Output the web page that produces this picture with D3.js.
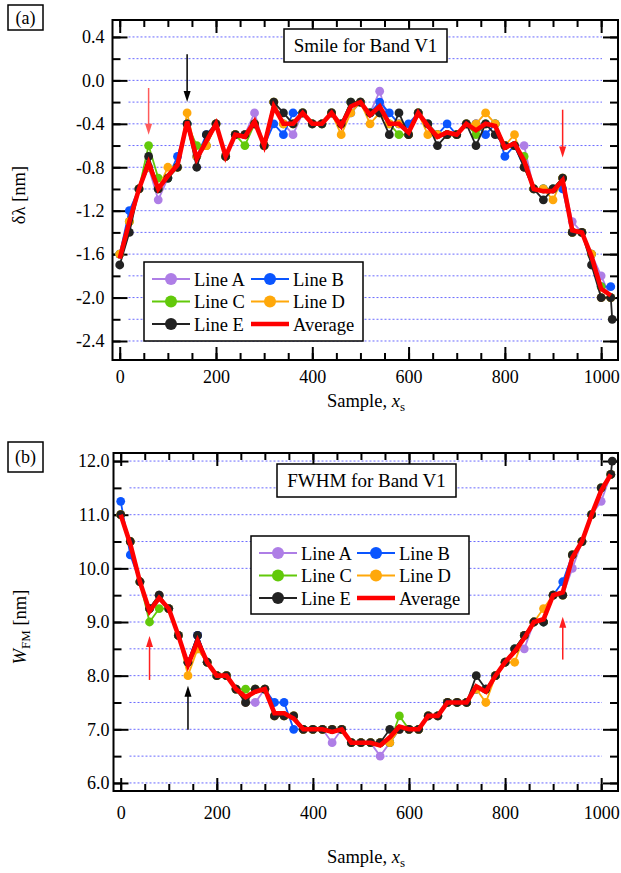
<!DOCTYPE html>
<html lang="en">
<head>
<meta charset="UTF-8" />
<title>Smile and FWHM for Band V1</title>
<script src="https://d3js.org/d3.v7.min.js"></script>
<style>
  body { margin: 0; background: #ffffff; }
  svg { display: block; font-family: 'Liberation Serif', 'Times New Roman', serif; }
  .grid line { stroke: #6a6aff; stroke-width: 1; stroke-dasharray: 2, 2; }
  .tick line { stroke: #000; stroke-width: 2; }
</style>
</head>
<body>
<svg id="chart" width="621" height="873"></svg>
<script>
// sample positions (every 20 samples), Line E also has a last point at 1023
const sampleX = [0, 20, 40, 60, 80, 100, 120, 140, 160, 180, 200, 220, 240, 260, 280, 300, 320, 340, 360, 380,
  400, 420, 440, 460, 480, 500, 520, 540, 560, 580, 600, 620, 640, 660, 680, 700, 720, 740, 760, 780,
  800, 820, 840, 860, 880, 900, 920, 940, 960, 980, 1000, 1020];
const lastSampleX = 1023;

const xTicks = [0, 200, 400, 600, 800, 1000];
const xMinorTicks = [0, 50, 100, 150, 200, 250, 300, 350, 400, 450, 500, 550, 600, 650, 700, 750, 800, 850, 900, 950, 1000];

// (a) smile, nm
const smileA = [-1.6, -1.3, -1.0, -0.8, -1.1, -0.9, -0.8, -0.4, -0.7, -0.6,
  -0.4, -0.7, -0.5, -0.5, -0.3, -0.6, -0.2, -0.4, -0.5, -0.3,
  -0.4, -0.4, -0.3, -0.4, -0.2, -0.2, -0.3, -0.1, -0.4, -0.4,
  -0.5, -0.3, -0.4, -0.5, -0.5, -0.5, -0.4, -0.4, -0.4, -0.4,
  -0.6, -0.6, -0.6, -1.0, -1.0, -1.0, -0.9, -1.3, -1.4, -1.6,
  -1.8, -2.0];
const smileB = [-1.6, -1.2, -1.0, -0.8, -1.0, -0.9, -0.7, -0.4, -0.7, -0.5,
  -0.4, -0.7, -0.5, -0.5, -0.4, -0.6, -0.4, -0.5, -0.3, -0.3,
  -0.4, -0.4, -0.3, -0.4, -0.3, -0.2, -0.3, -0.2, -0.3, -0.4,
  -0.4, -0.3, -0.4, -0.5, -0.4, -0.5, -0.4, -0.4, -0.5, -0.4,
  -0.7, -0.6, -0.8, -1.0, -1.0, -1.0, -1.0, -1.4, -1.4, -1.6,
  -1.9, -1.9];
const smileC = [-1.6, -1.3, -1.0, -0.6, -0.9, -0.9, -0.8, -0.4, -0.6, -0.6,
  -0.4, -0.7, -0.5, -0.6, -0.4, -0.6, -0.2, -0.4, -0.4, -0.3,
  -0.4, -0.4, -0.3, -0.4, -0.2, -0.2, -0.3, -0.3, -0.4, -0.5,
  -0.5, -0.3, -0.4, -0.5, -0.5, -0.5, -0.4, -0.5, -0.4, -0.4,
  -0.6, -0.6, -0.7, -1.0, -1.0, -1.0, -0.9, -1.4, -1.4, -1.6,
  -1.9, -2.0];
const smileD = [-1.6, -1.3, -1.0, -0.8, -1.0, -0.8, -0.8, -0.3, -0.7, -0.6,
  -0.4, -0.7, -0.5, -0.5, -0.4, -0.6, -0.2, -0.4, -0.4, -0.3,
  -0.4, -0.4, -0.3, -0.5, -0.3, -0.2, -0.4, -0.3, -0.4, -0.4,
  -0.5, -0.3, -0.5, -0.5, -0.5, -0.5, -0.4, -0.4, -0.3, -0.4,
  -0.6, -0.5, -0.8, -1.0, -1.0, -1.1, -0.9, -1.4, -1.4, -1.6,
  -2.0, -2.0];
const smileE = [-1.7, -1.4, -1.0, -0.7, -1.0, -0.9, -0.8, -0.4, -0.8, -0.5,
  -0.4, -0.7, -0.5, -0.5, -0.4, -0.6, -0.2, -0.3, -0.4, -0.3,
  -0.4, -0.4, -0.3, -0.4, -0.2, -0.2, -0.3, -0.3, -0.5, -0.3,
  -0.5, -0.3, -0.4, -0.6, -0.5, -0.5, -0.4, -0.6, -0.4, -0.5,
  -0.6, -0.6, -0.8, -1.0, -1.1, -1.0, -0.9, -1.4, -1.4, -1.7,
  -2.0, -2.0];
const smileELast = -2.2;
const smileAvg = [-1.64, -1.30, -1.00, -0.76, -1.00, -0.88, -0.78, -0.38, -0.72, -0.56,
  -0.40, -0.70, -0.50, -0.52, -0.38, -0.60, -0.24, -0.40, -0.40, -0.30,
  -0.40, -0.40, -0.30, -0.42, -0.24, -0.20, -0.32, -0.24, -0.40, -0.40,
  -0.48, -0.30, -0.42, -0.52, -0.48, -0.50, -0.40, -0.46, -0.40, -0.42,
  -0.62, -0.58, -0.74, -1.00, -1.02, -1.02, -0.92, -1.38, -1.40, -1.62,
  -1.92, -1.98];
const smileTicks = [-2.4, -2.0, -1.6, -1.2, -0.8, -0.4, 0.0, 0.4];
const smileMinor = [-2.4, -2.2, -2.0, -1.8, -1.6, -1.4, -1.2, -1.0, -0.8, -0.6, -0.4, -0.2, 0.0, 0.2, 0.4];
// arrows: sample, tail value, tip value
const smileArrows = [
  { x: 60, from: -0.07, to: -0.5, color: '#ff5a5a' },
  { x: 140, from: 0.24, to: -0.2, color: '#000000' },
  { x: 920, from: -0.27, to: -0.71, color: '#ff2020' }
];

// (b) FWHM, nm
const fwhmA = [11.0, 10.5, 9.75, 9.25, 9.5, 9.25, 8.75, 8.25, 8.75, 8.25,
  8.0, 8.0, 7.75, 7.5, 7.5, 7.75, 7.25, 7.25, 7.25, 7.0,
  7.0, 7.0, 6.75, 7.0, 6.75, 6.75, 6.75, 6.5, 6.75, 7.0,
  7.0, 7.0, 7.25, 7.25, 7.5, 7.5, 7.5, 7.75, 7.75, 8.0,
  8.25, 8.5, 8.5, 9.0, 9.0, 9.5, 9.5, 10.0, 10.5, 11.0,
  11.25, 11.75];
const fwhmB = [11.25, 10.25, 9.75, 9.25, 9.5, 9.25, 8.75, 8.25, 8.75, 8.25,
  8.0, 8.0, 7.75, 7.5, 7.75, 7.75, 7.5, 7.5, 7.0, 7.0,
  7.0, 7.0, 7.0, 7.0, 6.75, 6.75, 6.75, 6.75, 6.75, 7.0,
  7.0, 7.0, 7.25, 7.25, 7.5, 7.5, 7.5, 7.75, 7.75, 8.0,
  8.25, 8.5, 8.75, 9.0, 9.0, 9.5, 9.75, 10.25, 10.5, 11.0,
  11.5, 11.75];
const fwhmC = [11.0, 10.5, 9.75, 9.0, 9.25, 9.25, 8.75, 8.25, 8.5, 8.25,
  8.0, 8.0, 7.75, 7.75, 7.75, 7.75, 7.25, 7.25, 7.25, 7.0,
  7.0, 7.0, 7.0, 7.0, 6.75, 6.75, 6.75, 6.75, 6.75, 7.25,
  7.0, 7.0, 7.25, 7.25, 7.5, 7.5, 7.5, 7.75, 7.75, 8.0,
  8.25, 8.5, 8.75, 9.0, 9.0, 9.5, 9.5, 10.25, 10.5, 11.0,
  11.5, 11.75];
const fwhmD = [11.0, 10.5, 9.75, 9.25, 9.5, 9.25, 8.75, 8.0, 8.5, 8.25,
  8.0, 8.0, 7.75, 7.5, 7.75, 7.75, 7.25, 7.25, 7.25, 7.0,
  7.0, 7.0, 7.0, 7.0, 6.75, 6.75, 6.75, 6.75, 6.75, 7.0,
  7.0, 7.0, 7.25, 7.25, 7.5, 7.5, 7.5, 7.75, 7.5, 8.0,
  8.25, 8.25, 8.75, 9.0, 9.25, 9.5, 9.5, 10.25, 10.5, 11.0,
  11.5, 11.75];
const fwhmE = [11.0, 10.5, 9.75, 9.25, 9.5, 9.25, 8.75, 8.25, 8.75, 8.25,
  8.0, 8.0, 7.75, 7.5, 7.75, 7.75, 7.25, 7.25, 7.25, 7.0,
  7.0, 7.0, 7.0, 7.0, 6.75, 6.75, 6.75, 6.75, 7.0, 7.0,
  7.0, 7.0, 7.25, 7.25, 7.5, 7.5, 7.5, 8.0, 7.75, 8.0,
  8.25, 8.5, 8.75, 9.0, 9.0, 9.5, 9.5, 10.25, 10.5, 11.0,
  11.5, 11.75];
const fwhmELast = 12.0;
const fwhmAvg = [11.0, 10.45, 9.75, 9.2, 9.45, 9.25, 8.75, 8.2, 8.65, 8.25,
  8.0, 8.0, 7.75, 7.6, 7.7, 7.75, 7.3, 7.3, 7.2, 7.0,
  7.0, 7.0, 6.95, 7.0, 6.75, 6.75, 6.75, 6.7, 6.85, 7.05,
  7.0, 7.0, 7.25, 7.25, 7.5, 7.5, 7.5, 7.8, 7.7, 8.0,
  8.25, 8.45, 8.7, 9.0, 9.05, 9.5, 9.55, 10.2, 10.5, 11.0,
  11.45, 11.75];
const fwhmTicks = [6.0, 7.0, 8.0, 9.0, 10.0, 11.0, 12.0];
const fwhmMinor = [6.0, 6.5, 7.0, 7.5, 8.0, 8.5, 9.0, 9.5, 10.0, 10.5, 11.0, 11.5, 12.0];
const fwhmArrows = [
  { x: 60, from: 7.92, to: 8.74, color: '#ff2020' },
  { x: 140, from: 6.99, to: 7.81, color: '#000000' },
  { x: 920, from: 8.3, to: 9.1, color: '#ff2020' }
];

const lineNames = ['Line A', 'Line B', 'Line C', 'Line D', 'Line E'];
const lineColors = ['#ae7ee6', '#0a55ff', '#62c90a', '#ffa80a', '#222222'];
const avgColor = '#ff0000';

const svg = d3.select('#chart');

function pts(values, extra) {
  const p = values.map((v, i) => [sampleX[i], v]);
  if (extra !== undefined) p.push([lastSampleX, extra]);
  return p;
}

function drawPanel(o) {
  const x = d3.scaleLinear().domain([-15, 1035]).range([o.left, o.right]);
  const y = d3.scaleLinear().domain(o.yDomain).range([o.bottom, o.top]);
  const g = svg.append('g');

  // grid
  g.append('g').attr('class', 'grid')
    .selectAll('line').data(o.yMinor).join('line')
    .attr('x1', o.left + 16).attr('x2', o.right - 16)
    .attr('y1', (d) => y(d)).attr('y2', (d) => y(d));

  // minor ticks
  const strip = (sel) => sel.select('.domain').remove();
  g.append('g').attr('transform', `translate(0,${o.bottom})`)
    .call(d3.axisBottom(x).tickValues(xMinorTicks).tickSize(-7).tickFormat('')).call(strip);
  g.append('g').attr('transform', `translate(0,${o.top})`)
    .call(d3.axisTop(x).tickValues(xMinorTicks).tickSize(-7).tickFormat('')).call(strip);
  g.append('g').attr('transform', `translate(${o.left},0)`)
    .call(d3.axisLeft(y).tickValues(o.yMinor).tickSize(-8).tickFormat('')).call(strip);
  g.append('g').attr('transform', `translate(${o.right},0)`)
    .call(d3.axisRight(y).tickValues(o.yMinor).tickSize(-8).tickFormat('')).call(strip);

  // major ticks + labels
  const fmt = (d) => d.toFixed(1);
  g.append('g').attr('transform', `translate(0,${o.bottom})`)
    .call(d3.axisBottom(x).tickValues(xTicks).tickSize(-13).tickPadding(o.xPad).tickFormat((d) => d))
    .call(strip)
    .selectAll('text').attr('font-size', 18).attr('font-family', 'Liberation Serif').attr('fill', '#000');
  g.append('g').attr('transform', `translate(0,${o.top})`)
    .call(d3.axisTop(x).tickValues(xTicks).tickSize(-13).tickFormat('')).call(strip);
  g.append('g').attr('transform', `translate(${o.left},0)`)
    .call(d3.axisLeft(y).tickValues(o.yTicks).tickSize(-15).tickPadding(o.yPad).tickFormat(fmt))
    .call(strip)
    .selectAll('text').attr('font-size', 18).attr('font-family', 'Liberation Serif').attr('fill', '#000');
  g.append('g').attr('transform', `translate(${o.right},0)`)
    .call(d3.axisRight(y).tickValues(o.yTicks).tickSize(-15).tickFormat('')).call(strip);

  // frame
  g.append('rect')
    .attr('x', o.left).attr('y', o.top)
    .attr('width', o.right - o.left).attr('height', o.bottom - o.top)
    .attr('fill', 'none').attr('stroke', '#000').attr('stroke-width', 2);

  // series
  const line = d3.line().x((d) => x(d[0])).y((d) => y(d[1]));
  o.series.forEach((s, i) => {
    const p = pts(s, i === 4 ? o.eLast : undefined);
    g.append('path').datum(p).attr('d', line)
      .attr('fill', 'none').attr('stroke', lineColors[i]).attr('stroke-width', 1.8);
    g.append('g').selectAll('circle').data(p).join('circle')
      .attr('cx', (d) => x(d[0])).attr('cy', (d) => y(d[1])).attr('r', 4.4)
      .attr('fill', lineColors[i]);
  });
  g.append('path').datum(pts(o.avg)).attr('d', line)
    .attr('fill', 'none').attr('stroke', avgColor).attr('stroke-width', 4.6)
    .attr('stroke-linejoin', 'miter');

  // arrows
  o.arrows.forEach((a) => {
    const ax = x(a.x), y0 = y(a.from), y1 = y(a.to);
    const dir = y1 > y0 ? 1 : -1;
    g.append('line').attr('x1', ax).attr('x2', ax).attr('y1', y0).attr('y2', y1 - dir * 8)
      .attr('stroke', a.color).attr('stroke-width', 1.5);
    g.append('path')
      .attr('d', `M${ax},${y1} L${ax - 3.5},${y1 - dir * 11} L${ax + 3.5},${y1 - dir * 11} Z`)
      .attr('fill', a.color);
  });

  // title box
  const t = o.title;
  g.append('rect').attr('x', t.x).attr('y', t.y).attr('width', t.w).attr('height', t.h)
    .attr('fill', '#fff').attr('stroke', '#000').attr('stroke-width', 1.5);
  g.append('text').attr('x', t.x + t.w / 2).attr('y', t.y + t.h / 2 + 6.5)
    .attr('text-anchor', 'middle').attr('font-size', 19).text(t.text);

  // legend
  const L = o.legend;
  g.append('rect').attr('x', L.x).attr('y', L.y).attr('width', L.w).attr('height', L.h)
    .attr('fill', '#fff').attr('stroke', '#000').attr('stroke-width', 1.5);
  const items = lineNames.map((n, i) => ({ name: n, color: lineColors[i], avg: false }))
    .concat([{ name: 'Average', color: avgColor, avg: true }]);
  items.forEach((it, i) => {
    const col = i % 2, row = Math.floor(i / 2);
    const lx = L.x + 8 + col * L.colW, ly = L.y + 17 + row * 22.5;
    g.append('line').attr('x1', lx).attr('x2', lx + 38).attr('y1', ly).attr('y2', ly)
      .attr('stroke', it.color).attr('stroke-width', it.avg ? 4.6 : 1.8);
    if (!it.avg) {
      g.append('circle').attr('cx', lx + 19).attr('cy', ly).attr('r', 6).attr('fill', it.color);
    }
    g.append('text').attr('x', lx + 42).attr('y', ly + 6.5).attr('font-size', 18.5).text(it.name);
  });

  // panel label
  const P = o.panel;
  g.append('rect').attr('x', P.x).attr('y', P.y).attr('width', 35).attr('height', P.h)
    .attr('fill', 'none').attr('stroke', '#000').attr('stroke-width', 1.5);
  g.append('text').attr('x', P.x + 17.5).attr('y', P.y + P.h / 2 + 6)
    .attr('text-anchor', 'middle').attr('font-size', 18).text(P.text);

  // x label
  const xl = g.append('text').attr('x', 366).attr('y', o.xLabelY)
    .attr('text-anchor', 'middle').attr('font-size', 18.5);
  xl.append('tspan').text('Sample, ');
  xl.append('tspan').attr('font-style', 'italic').text('x');
  xl.append('tspan').attr('font-size', 13).attr('dy', 4).text('s');

  // y label
  const yl = g.append('text')
    .attr('transform', `translate(${o.yLabelX},${(o.top + o.bottom) / 2 + 5}) rotate(-90)`)
    .attr('text-anchor', 'middle').attr('font-size', 18.5);
  o.yLabel(yl);
}

drawPanel({
  left: 112.5, right: 618, top: 20, bottom: 360,
  yDomain: [-2.575, 0.556], yTicks: smileTicks, yMinor: smileMinor,
  series: [smileA, smileB, smileC, smileD, smileE], eLast: smileELast, avg: smileAvg,
  arrows: smileArrows,
  xPad: 10, yPad: 8,
  title: { x: 284, y: 29, w: 163, h: 33, text: 'Smile for Band V1' },
  legend: { x: 144, y: 262, w: 219, h: 79, colW: 99 },
  panel: { x: 8, y: 5, h: 25, text: '(a)' },
  xLabelY: 407, yLabelX: 25,
  yLabel: (t) => t.text('δλ [nm]')
});

drawPanel({
  left: 113.5, right: 618, top: 453, bottom: 791,
  yDomain: [5.85, 12.15], yTicks: fwhmTicks, yMinor: fwhmMinor,
  series: [fwhmA, fwhmB, fwhmC, fwhmD, fwhmE], eLast: fwhmELast, avg: fwhmAvg,
  arrows: fwhmArrows,
  xPad: 15, yPad: 4,
  title: { x: 277, y: 464, w: 179, h: 33, text: 'FWHM for Band V1' },
  legend: { x: 251, y: 536, w: 218, h: 78, colW: 98 },
  panel: { x: 8, y: 442, h: 30, text: '(b)' },
  xLabelY: 863, yLabelX: 26,
  yLabel: (t) => {
    t.append('tspan').attr('font-style', 'italic').text('W');
    t.append('tspan').attr('font-size', 13).attr('dy', 4).text('FM');
    t.append('tspan').attr('dy', -4).text(' [nm]');
  }
});
</script>
</body>
</html>
